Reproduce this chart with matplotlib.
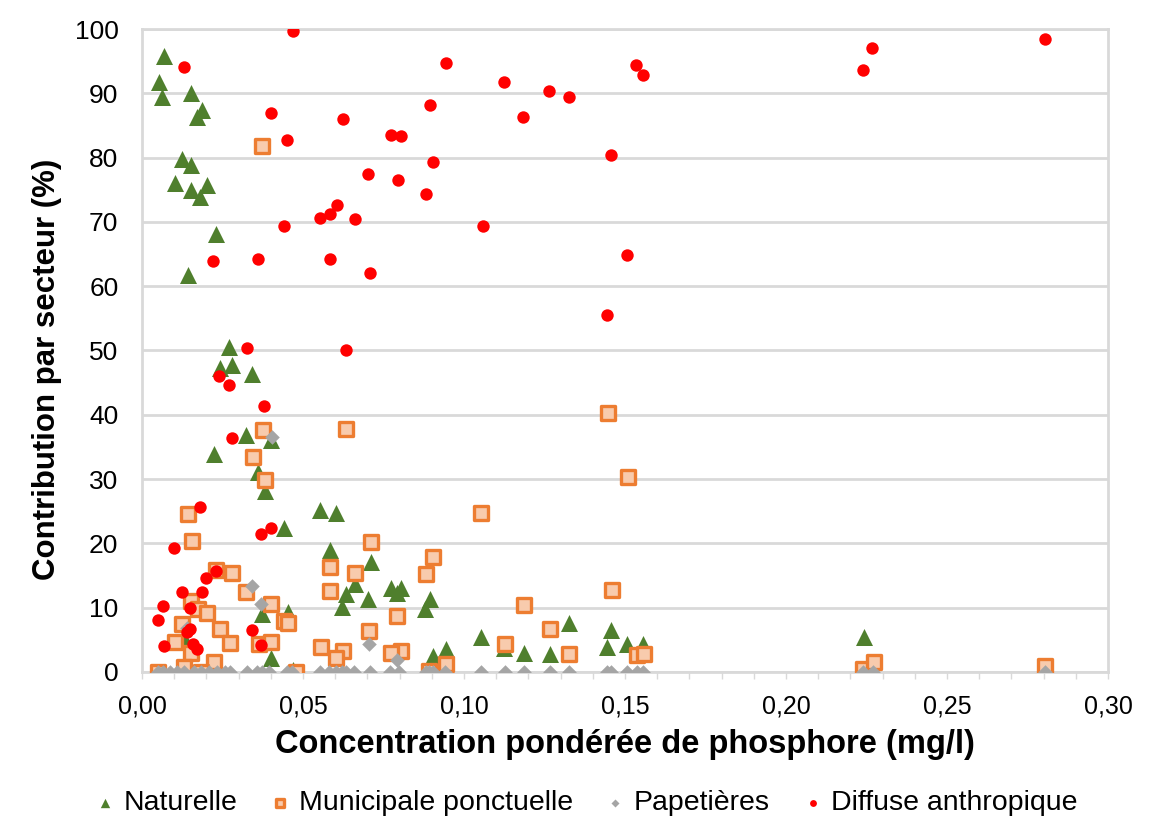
import matplotlib
matplotlib.use("Agg")
import matplotlib.pyplot as plt
from matplotlib.ticker import MultipleLocator, FuncFormatter

plt.rcParams['font.family'] = ['Liberation Sans', 'DejaVu Sans']

# ---- data ----
nat_x = [0.0069, 0.0052, 0.0063, 0.0152, 0.0187, 0.0172, 0.0124, 0.0152, 0.0102, 0.0202,
         0.0153, 0.0181, 0.0231, 0.0142, 0.0271, 0.0279, 0.0243, 0.0342, 0.0324, 0.0222,
         0.0402, 0.0360, 0.0381, 0.0440, 0.0552, 0.0603, 0.0583, 0.0710, 0.0661, 0.0773,
         0.0804, 0.0793, 0.0635, 0.0703, 0.0894, 0.0622, 0.0879, 0.0453, 0.0373, 0.0132,
         0.0402, 0.0903, 0.0944, 0.1053, 0.1125, 0.1186, 0.1266, 0.1326, 0.1445, 0.1456,
         0.1507, 0.1557, 0.2241, 0.0470]
nat_y = [95.9, 91.7, 89.5, 90.0, 87.4, 86.3, 79.8, 78.9, 76.0, 75.7,
         75.0, 73.9, 68.1, 61.8, 50.5, 47.8, 47.2, 46.4, 36.9, 33.9,
         36.0, 31.1, 28.1, 22.4, 25.2, 24.7, 19.0, 17.1, 13.7, 13.1,
         13.1, 12.3, 12.1, 11.4, 11.4, 10.1, 9.8, 9.3, 9.0, 5.0,
         2.2, 2.4, 3.6, 5.4, 3.7, 3.0, 2.8, 7.6, 3.9, 6.5,
         4.4, 4.4, 5.4, 0.3]

mun_x = [0.0373, 0.1448, 0.0377, 0.0635, 0.0344, 0.1508, 0.0383, 0.0144, 0.1053, 0.0155,
         0.0710, 0.0903, 0.0583, 0.0231, 0.0279, 0.0661, 0.0882, 0.1458, 0.0583, 0.0324,
         0.0152, 0.0402, 0.1186, 0.0175, 0.0203, 0.0793, 0.0442, 0.0453, 0.0124, 0.0243,
         0.1268, 0.0705, 0.0103, 0.0272, 0.0362, 0.0402, 0.1126, 0.0555, 0.0624, 0.0804,
         0.0773, 0.0152, 0.1326, 0.1536, 0.1560, 0.0603, 0.0222, 0.0944, 0.0129, 0.0892,
         0.0051, 0.0184, 0.0477, 0.2239, 0.2272, 0.2803]
mun_y = [81.8, 40.3, 37.7, 37.8, 33.4, 30.3, 29.9, 24.6, 24.7, 20.3,
         20.2, 17.8, 16.3, 15.8, 15.4, 15.4, 15.2, 12.7, 12.6, 12.4,
         11.0, 10.5, 10.4, 9.8, 9.2, 8.7, 7.9, 7.6, 7.5, 6.6,
         6.6, 6.3, 4.7, 4.5, 4.4, 4.6, 4.3, 3.8, 3.2, 3.2,
         2.9, 2.9, 2.7, 2.6, 2.8, 2.2, 1.5, 1.2, 0.7, 0.2,
         0.0, 0.0, 0.0, 0.5, 1.5, 0.9]

pap_x = [0.0404, 0.0343, 0.0371, 0.0705, 0.0793, 0.0139,
         0.0051, 0.0066, 0.0087, 0.0108, 0.0129, 0.0160, 0.0184, 0.0207, 0.0233, 0.0259,
         0.0272, 0.0326, 0.0357, 0.0373, 0.0393, 0.0451, 0.0466, 0.0554, 0.0580, 0.0601,
         0.0622, 0.0632, 0.0658, 0.0708, 0.0770, 0.0798, 0.0882, 0.0892, 0.0903, 0.0942,
         0.1053, 0.1126, 0.1186, 0.1266, 0.1325, 0.1445, 0.1455, 0.1507, 0.1536, 0.1557,
         0.2239, 0.2270, 0.2803]
pap_y = [36.5, 13.3, 10.6, 4.3, 1.8, 6.8] + [0.0] * 43

dif_x = [0.0131, 0.0470, 0.0945, 0.1125, 0.1533, 0.1555, 0.0401, 0.0624, 0.0895, 0.1184,
         0.1265, 0.1325, 0.0451, 0.0773, 0.0805, 0.0903, 0.1455, 0.0703, 0.0794, 0.0882,
         0.0604, 0.0583, 0.0554, 0.0660, 0.1058, 0.0440, 0.0220, 0.0361, 0.0583, 0.0708,
         0.1505, 0.1445, 0.0325, 0.0633, 0.0240, 0.0270, 0.0380, 0.0279, 0.0180, 0.0401,
         0.0371, 0.0100, 0.0231, 0.0200, 0.0125, 0.0187, 0.0064, 0.0150, 0.0051, 0.0150,
         0.0139, 0.0343, 0.0069, 0.0158, 0.0172, 0.0371, 0.2239, 0.2268, 0.2803]
dif_y = [94.1, 99.7, 94.8, 91.7, 94.4, 92.8, 87.0, 86.0, 88.2, 86.4,
         90.3, 89.4, 82.8, 83.6, 83.3, 79.3, 80.4, 77.5, 76.6, 74.4,
         72.7, 71.2, 70.6, 70.5, 69.4, 69.3, 64.0, 64.3, 64.3, 62.1,
         64.9, 55.5, 50.4, 50.1, 46.1, 44.7, 41.3, 36.4, 25.7, 22.4,
         21.5, 19.2, 15.7, 14.6, 12.4, 12.4, 10.2, 9.9, 8.1, 6.7,
         6.2, 6.5, 4.0, 4.4, 3.6, 4.1, 93.7, 97.1, 98.4]

series_names = ["Naturelle", "Municipale ponctuelle", "Papetières", "Diffuse anthropique"]
x_label = "Concentration pondérée de phosphore (mg/l)"
y_label = "Contribution par secteur (%)"

# ---- figure ----
fig = plt.figure(figsize=(11.5, 8.33), dpi=100)
ax = fig.add_axes([0.1235, 0.1935, 0.8400, 0.7715])

grid_c = "#d9d9d9"
ax.scatter(nat_x, nat_y, marker="^", s=150, color="#4f7f2d", linewidths=0, zorder=3,
           label=series_names[0])
ax.scatter(mun_x, mun_y, marker="s", s=95, facecolor="#f8cbad", edgecolor="#ed7d31",
           linewidths=2.4, zorder=4, label=series_names[1])
ax.scatter(pap_x, pap_y, marker="D", s=55, color="#a5a5a5", linewidths=0, zorder=5,
           label=series_names[2])
ax.scatter(dif_x, dif_y, marker="o", s=80, color="#ff0000", linewidths=0, zorder=6,
           label=series_names[3])

ax.set_xlim(0, 0.30)
ax.set_ylim(0, 100)
ax.xaxis.set_major_locator(MultipleLocator(0.05))
ax.xaxis.set_minor_locator(MultipleLocator(0.01))
ax.yaxis.set_major_locator(MultipleLocator(10))
ax.xaxis.set_major_formatter(FuncFormatter(lambda v, p: f"{v:.2f}".replace(".", ",")))
ax.yaxis.set_major_formatter(FuncFormatter(lambda v, p: f"{v:.0f}"))

ax.grid(axis="y", color=grid_c, linewidth=2, zorder=0)
ax.set_axisbelow(True)
for s in ax.spines.values():
    s.set_color(grid_c)
    s.set_linewidth(2)

ax.tick_params(axis="x", which="both", direction="out", length=5, width=1, color=grid_c,
               labelsize=18, pad=11)
ax.tick_params(axis="y", which="both", length=0, labelsize=19, pad=17)

ax.set_xlabel(x_label, fontsize=23.5, fontweight="bold", labelpad=8)
ax.set_ylabel(y_label, fontsize=22.5, fontweight="bold")
ax.yaxis.set_label_coords(-0.083, 0.471)

leg = fig.legend(loc="center", bbox_to_anchor=(0.508, 0.036), ncol=4, frameon=False,
                 fontsize=20.5, markerscale=0.55, handletextpad=0.15, columnspacing=1.0,
                 handlelength=1.0)

fig.savefig("out.png", dpi=100)
